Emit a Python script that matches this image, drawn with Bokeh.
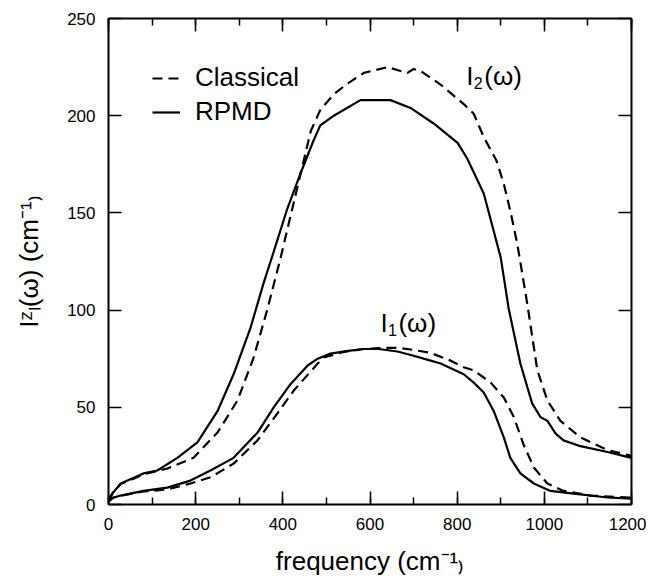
from bokeh.plotting import figure
from bokeh.models import (Range1d, LinearAxis, SingleIntervalTicker, Label,
                          Legend, LegendItem)
from bokeh.embed import file_html
from bokeh.resources import INLINE

# ---------------- data ----------------
freq_i2_rpmd = [0, 10, 28, 50, 80, 112, 158, 204, 250, 287, 326, 356, 379, 410,
                440, 470, 486, 517, 578, 647, 693, 746, 801, 823, 861, 900, 918,
                945, 972, 991, 1007, 1026, 1044, 1083, 1145, 1200]
i2_rpmd = [2, 6, 10.8, 13, 16, 17.5, 24, 32, 48, 67, 91, 114, 130, 152,
           170, 187, 195, 200, 208, 208, 204, 196, 186, 178, 160, 127, 101,
           72.5, 52, 45, 43, 36.5, 33, 30, 27, 24]

freq_i2_cl = [0, 10, 28, 50, 80, 135, 195, 250, 296, 333, 364, 395, 430, 464,
              486, 517, 545, 586, 640, 670, 686, 700, 716, 762, 815, 838, 861,
              890, 907, 922, 938, 961, 984, 1007, 1037, 1083, 1145, 1200]
i2_cl = [2, 6, 10.5, 12.5, 15.5, 18.5, 24, 37, 53.5, 75.6, 100, 127, 160, 192,
         203, 211, 216, 222, 225, 223, 222, 224, 223, 216, 206, 201, 189,
         177, 165, 151, 134, 103, 69, 53.5, 43, 34.5, 28, 25]

freq_i1_rpmd = [0, 10, 28, 80, 135, 188, 234, 287, 342, 379, 418, 457, 480, 509,
                550, 585, 620, 663, 700, 739, 762, 815, 838, 861, 884, 907, 922,
                945, 976, 1014, 1067, 1145, 1200]
i1_rpmd = [1.5, 3.5, 4.6, 7, 8.7, 12.3, 17.5, 24, 37, 50, 62, 71.5, 75, 77.6,
           79, 80, 80, 78.7, 76.5, 74, 72.5, 67, 62.7, 57.6, 48, 34.5, 24,
           16, 10.8, 7, 5.6, 3.6, 3]

freq_i1_cl = [0, 10, 28, 80, 135, 188, 234, 287, 342, 388, 425, 480, 494, 540,
              585, 620, 663, 700, 739, 785, 815, 838, 877, 907, 930, 952, 976,
              1007, 1044, 1106, 1200]
i1_cl = [1.5, 3.5, 4.5, 6.7, 7.7, 10.8, 14, 21, 33, 47, 58.6, 72.5, 75.6, 78.5,
         80, 80.5, 80.6, 79.5, 78, 74, 70.6, 69, 62.7, 55, 45, 31, 19,
         10.8, 7, 4.6, 3.5]

series_names = ["Classical", "RPMD"]
x_title = "frequency (cm\u207b\u00b9\u208e"
y_title = "I\u1dbb\u2097(\u03c9) (cm\u207b\u00b9\u208e"
x_ticks_interval = 200
y_ticks_interval = 50

FONT = "Liberation Sans"

p = figure(width=646, height=578, output_backend="svg", toolbar_location=None,
           x_range=Range1d(0, 1200), y_range=Range1d(0, 250),
           x_axis_type=None, y_axis_type=None,
           min_border_left=108, min_border_right=15,
           min_border_top=18, min_border_bottom=74)
p.outline_line_color = None
p.background_fill_color = None
p.border_fill_color = None


def make_axis(is_x, show_labels, title=None, title_standoff=0):
    if is_x:
        t = SingleIntervalTicker(interval=x_ticks_interval, num_minor_ticks=2)
    else:
        t = SingleIntervalTicker(interval=y_ticks_interval, num_minor_ticks=0)
    ax = LinearAxis(ticker=t)
    ax.axis_line_width = 2
    ax.axis_line_color = "black"
    ax.major_tick_in = 13
    ax.major_tick_out = 0
    ax.minor_tick_in = 7
    ax.minor_tick_out = 0
    ax.major_tick_line_width = 1.5
    ax.minor_tick_line_width = 1.5
    ax.major_tick_line_color = "black"
    ax.minor_tick_line_color = "black" if is_x else None
    ax.major_label_text_font = FONT
    if show_labels:
        ax.major_label_text_color = "black"
        ax.major_label_text_font_size = "17px"
        ax.major_label_standoff = 13
    else:
        ax.major_label_text_color = None
        ax.major_label_text_font_size = "8px"
        ax.major_label_standoff = 0
    if title:
        ax.axis_label = title
        ax.axis_label_text_font = FONT
        ax.axis_label_text_font_size = "26px"
        ax.axis_label_text_font_style = "normal"
        ax.axis_label_text_color = "black"
        ax.axis_label_standoff = title_standoff
    return ax


p.add_layout(make_axis(True, True, x_title, 13), "below")
p.add_layout(make_axis(True, False), "above")
p.add_layout(make_axis(False, True, y_title, 20), "left")
p.add_layout(make_axis(False, False), "right")

LW = 2.2
DASH = "10 6"
r_i2_rpmd = p.line(freq_i2_rpmd, i2_rpmd, line_width=LW, line_color="black")
r_i2_cl = p.line(freq_i2_cl, i2_cl, line_width=LW, line_color="black",
                 line_dash=DASH)
p.line(freq_i1_rpmd, i1_rpmd, line_width=LW, line_color="black")
p.line(freq_i1_cl, i1_cl, line_width=LW, line_color="black", line_dash=DASH)

legend = Legend(items=[LegendItem(label=series_names[0], renderers=[r_i2_cl]),
                       LegendItem(label=series_names[1], renderers=[r_i2_rpmd])],
                location=(44, 377), padding=0, margin=0, spacing=3,
                glyph_width=28, glyph_height=30, label_height=30,
                label_standoff=15, border_line_color=None,
                background_fill_alpha=0,
                label_text_font=FONT, label_text_font_size="26px",
                label_text_color="black")
p.add_layout(legend)


def add_label(text, x, y, size, xo=0, yo=0):
    lab = Label(x=x, y=y, x_units="data", y_units="data", text=text,
                text_font=FONT, text_font_size=size, text_color="black",
                x_offset=xo, y_offset=yo,
                text_align="left", text_baseline="alphabetic")
    p.add_layout(lab)


# curve labels
for sub, xx, yy in [("2", 821, 220.5), ("1", 624, 93.5)]:
    add_label("I", xx, yy, "26px")
    add_label(sub, xx, yy, "16px", xo=7.5, yo=-7)
    add_label("(\u03c9)", xx, yy, "26px", xo=18)

open("out.html", "w").write(file_html(p, INLINE))
